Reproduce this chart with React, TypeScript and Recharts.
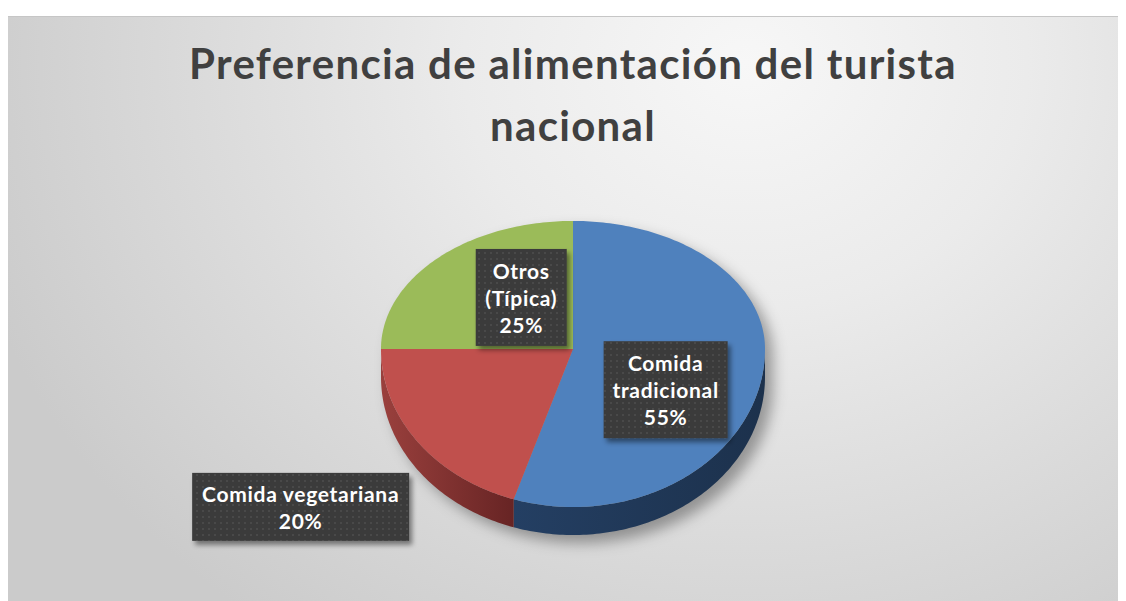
import React from "react";
import { Cell, Pie, PieChart } from "recharts";

const CATEGORIES = ["Comida tradicional", "Comida vegetariana", "Otros (Típica)"];
const SHARES = [55, 20, 25];
const CATEGORY_LINES = [["Comida", "tradicional"], ["Comida vegetariana"], ["Otros", "(Típica)"]];
const TOP_COLORS = ["#4f81bd", "#c0504d", "#9bbb59"];
const SIDE_FILLS = ["url(#sideBlue)", "url(#sideRed)", "url(#sideGreen)"];

const TITLE_LINES = ["Preferencia de alimentación del turista", "nacional"];

// label box placement relative to the rim point at the slice's mid angle
const LABEL_BOXES = [
  { dx: -97, dy: 16, w: 124, h: 97 },
  { dx: -117, dy: 65, w: 217, h: 68 },
  { dx: 84, dy: 39, w: 91, h: 97 },
];

const data = CATEGORIES.map((name, i) => ({ name, value: SHARES[i] }));

const FONT = "Lato, 'Open Sans', sans-serif";
const RAD = Math.PI / 180;
const TILT_BACK = 0.667;
const TILT_FRONT = 0.823;
const DEPTH = 28;

function rimPoint(cx: number, cy: number, r: number, deg: number): [number, number] {
  const s = Math.sin(deg * RAD);
  const ry = s > 0 ? r * TILT_BACK : r * TILT_FRONT;
  return [cx + r * Math.cos(deg * RAD), cy - ry * s];
}

function sampleAngles(start: number, end: number) {
  const n = Math.max(2, Math.ceil(Math.abs(end - start)));
  const out: number[] = [];
  for (let i = 0; i <= n; i++) out.push(start + ((end - start) * i) / n);
  return out;
}

const toPath = (pts: [number, number][]) =>
  pts.map((p, i) => `${i === 0 ? "M" : "L"}${p[0].toFixed(2)},${p[1].toFixed(2)}`).join(" ") + " Z";

function PieSlice(props: any) {
  const { cx, cy, outerRadius, startAngle, endAngle } = props;
  const name = props.payload?.name ?? props.name;
  const idx = Math.max(0, CATEGORIES.indexOf(name));
  const angles = sampleAngles(startAngle, endAngle);

  const top: [number, number][] = [[cx, cy], ...angles.map((a) => rimPoint(cx, cy, outerRadius, a))];

  const front = angles.filter((a) => Math.sin(a * RAD) <= 1e-9);
  let wall: string | null = null;
  if (front.length >= 2) {
    const upper = front.map((a) => rimPoint(cx, cy, outerRadius, a));
    const lower = [...upper].reverse().map(([x, y]) => [x, y + DEPTH] as [number, number]);
    wall = toPath([...upper, ...lower]);
  }

  let shadow: string | null = null;
  if (idx === 0) {
    const back = sampleAngles(0, 180).map((a) => rimPoint(cx, cy, outerRadius, a));
    const fr = sampleAngles(180, 360).map((a) => {
      const [x, y] = rimPoint(cx, cy, outerRadius, a);
      return [x, y + DEPTH] as [number, number];
    });
    shadow = toPath([...back, ...fr].map(([x, y]) => [x + 8, y + 8] as [number, number]));
  }

  return (
    <g>
      {shadow && <path d={shadow} fill="rgba(0,0,0,0.34)" filter="url(#pieShadow)" />}
      {wall && <path d={wall} fill={SIDE_FILLS[idx]} />}
      <path d={toPath(top)} fill={TOP_COLORS[idx]} />
    </g>
  );
}

function renderLabel(p: any) {
  const name = p.payload?.name ?? p.name;
  const idx = Math.max(0, CATEGORIES.indexOf(name));
  const [ax, ay] = rimPoint(p.cx, p.cy, p.outerRadius, p.midAngle);
  const box = LABEL_BOXES[idx];
  const bx = ax + box.dx;
  const by = ay + box.dy;
  const lines = [...CATEGORY_LINES[idx], `${Math.round(p.percent * 100)}%`];
  const lineH = 27;
  const firstY = by - ((lines.length - 1) * lineH) / 2;
  return (
    <g key={`lbl-${idx}`}>
      <rect
        x={bx - box.w / 2}
        y={by - box.h / 2}
        width={box.w}
        height={box.h}
        fill="url(#dots)"
        filter="url(#boxShadow)"
      />
      {lines.map((t, i) => (
        <text
          key={i}
          x={bx}
          y={firstY + i * lineH}
          textAnchor="middle"
          dominantBaseline="central"
          fill="#ffffff"
          fontSize={21}
          fontWeight={700}
          letterSpacing={0.7}
          fontFamily={FONT}
        >
          {t}
        </text>
      ))}
    </g>
  );
}

export default function App() {
  return (
    <div style={{ marginTop: 8 }}>
      <div
        style={{
          position: "relative",
          width: 1118,
          height: 585,
          borderTop: "1px solid #c6c6c6",
          boxSizing: "border-box",
          background:
            "radial-gradient(ellipse 72% 120% at 66% 8%, #f7f7f7 0%, #ebebeb 35%, #dcdcdc 65%, #cbcbcb 100%)",
        }}
      >
        <div
          style={{
            position: "absolute",
            left: 0,
            top: 15,
            width: 1130,
            textAlign: "center",
            fontFamily: FONT,
            fontWeight: 700,
            fontSize: 42,
            letterSpacing: 1.3,
            lineHeight: "62px",
            color: "#404040",
          }}
        >
          {TITLE_LINES.map((t) => (
            <div key={t}>{t}</div>
          ))}
        </div>
        <div style={{ position: "absolute", left: 0, top: -1 }}>
          <PieChart width={1118} height={585} margin={{ top: 0, right: 0, bottom: 0, left: 0 }}>
            <defs>
              <linearGradient id="sideBlue" x1="0" y1="0" x2="1" y2="0">
                <stop offset="0%" stopColor="#243f63" />
                <stop offset="100%" stopColor="#1c314c" />
              </linearGradient>
              <linearGradient id="sideRed" x1="0" y1="0" x2="1" y2="0">
                <stop offset="0%" stopColor="#9a403d" />
                <stop offset="100%" stopColor="#672424" />
              </linearGradient>
              <linearGradient id="sideGreen" x1="0" y1="0" x2="1" y2="0">
                <stop offset="0%" stopColor="#6f8a3c" />
                <stop offset="100%" stopColor="#556b2c" />
              </linearGradient>
              <pattern id="dots" width="6" height="6" patternUnits="userSpaceOnUse">
                <rect width="6" height="6" fill="#3b3b3b" />
                <circle cx="3" cy="3" r="1" fill="#4f4f4f" />
              </pattern>
              <filter id="pieShadow" x="-20%" y="-20%" width="140%" height="140%">
                <feGaussianBlur stdDeviation="7" />
              </filter>
              <filter id="boxShadow" x="-20%" y="-20%" width="140%" height="150%">
                <feDropShadow dx="3" dy="4" stdDeviation="2.5" floodColor="#000" floodOpacity="0.45" />
              </filter>
            </defs>
            <Pie
              data={data}
              dataKey="value"
              nameKey="name"
              cx={565}
              cy={333}
              outerRadius={192}
              startAngle={90}
              endAngle={-270}
              stroke="none"
              shape={PieSlice}
              label={renderLabel}
              labelLine={false}
              isAnimationActive={false}
            >
              {data.map((d, i) => (
                <Cell key={d.name} fill={TOP_COLORS[i]} />
              ))}
            </Pie>
          </PieChart>
        </div>
      </div>
    </div>
  );
}
